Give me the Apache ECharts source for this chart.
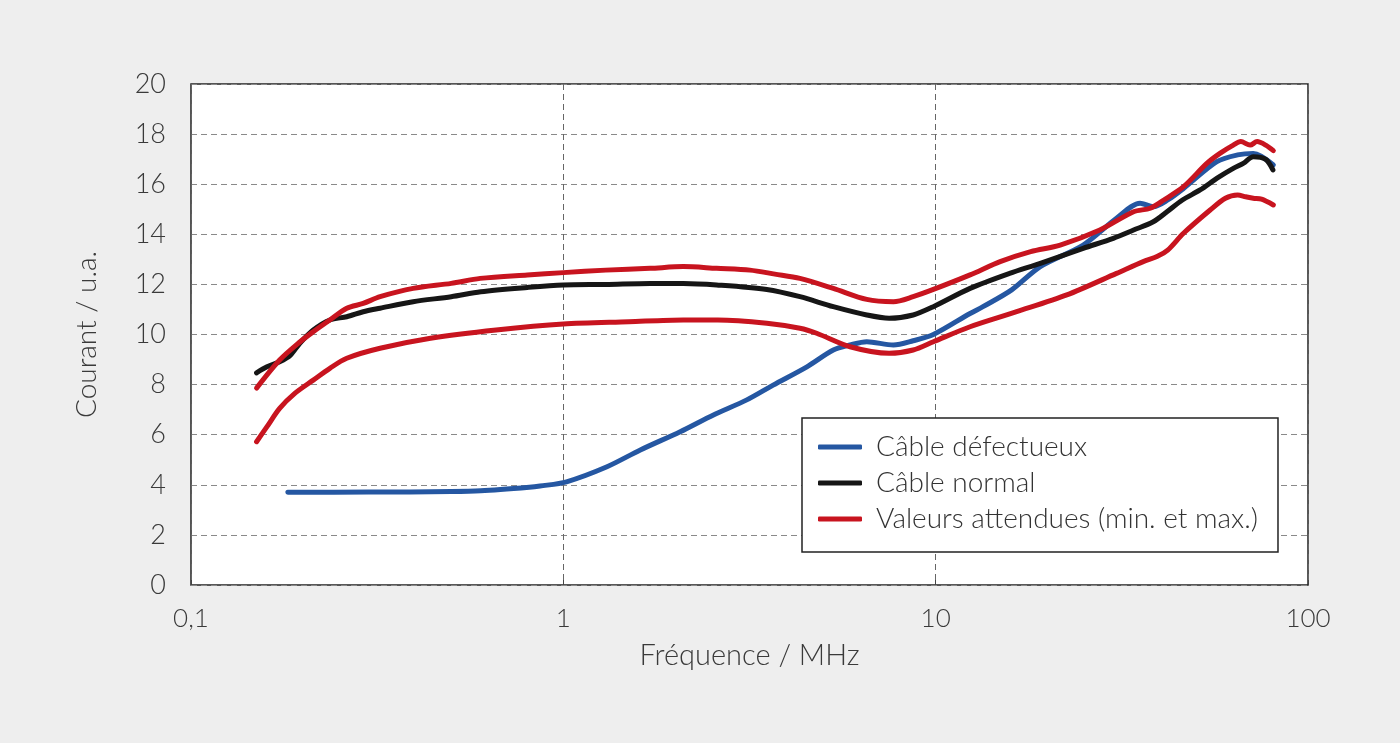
<!DOCTYPE html>
<html>
<head>
<meta charset="utf-8">
<script src="https://cdn.jsdelivr.net/npm/echarts@6/dist/echarts.min.js"></script>
<style>
html,body{margin:0;padding:0;background:#eeeeee;}
#chart{width:1400px;height:743px;}
</style>
</head>
<body>
<div id="chart"></div>
<script>
// Frequencies (MHz) and currents (u.a.)
const defectFreq = [0.182, 0.3, 0.5, 0.6, 0.81, 0.866, 1.02, 1.31, 1.61, 2.06, 2.53, 3.11, 3.66, 4.51, 5.31, 5.89, 6.53, 7.7, 8.7, 9.86, 12.37, 13.4, 16, 19.1, 24.9, 30.6, 35.4, 38.4, 42, 46.3, 56.9, 64.7, 71.3, 80.7];
const defectVal  = [3.70, 3.71, 3.73, 3.76, 3.90, 3.95, 4.12, 4.72, 5.39, 6.12, 6.79, 7.39, 7.98, 8.71, 9.38, 9.58, 9.71, 9.58, 9.75, 10.0, 10.84, 11.11, 11.78, 12.71, 13.57, 14.64, 15.24, 15.10, 15.37, 15.83, 16.90, 17.17, 17.23, 16.77];

const normalFreq = [0.15, 0.16, 0.173, 0.185, 0.196, 0.213, 0.236, 0.262, 0.29, 0.322, 0.395, 0.5, 0.6, 0.8, 1.0, 1.3, 1.71, 2.1, 2.58, 3.52, 4.32, 5.31, 6.53, 7.5, 8.7, 9.86, 12.37, 15.8, 19.1, 24.9, 30, 34, 38.4, 41.8, 46, 51.3, 57, 63, 67, 71.3, 77, 80.5];
const normalVal  = [8.47, 8.71, 8.91, 9.18, 9.65, 10.18, 10.58, 10.71, 10.91, 11.05, 11.31, 11.51, 11.71, 11.88, 11.98, 12.00, 12.04, 12.04, 11.98, 11.80, 11.51, 11.11, 10.78, 10.65, 10.78, 11.11, 11.84, 12.44, 12.84, 13.44, 13.84, 14.17, 14.50, 14.90, 15.37, 15.77, 16.24, 16.63, 16.83, 17.10, 16.99, 16.57];

const maxFreq = [0.15, 0.173, 0.196, 0.213, 0.236, 0.262, 0.29, 0.322, 0.395, 0.5, 0.598, 0.8, 1.0, 1.3, 1.71, 2.1, 2.58, 3.17, 3.7, 4.32, 5.31, 6.53, 7.7, 8.7, 9.86, 12.37, 14.9, 18, 21.6, 27.6, 34, 37.7, 41, 46.3, 53.5, 58, 63, 66, 69.9, 73, 77, 80.7];
const maxVal  = [7.86, 8.98, 9.70, 10.11, 10.58, 11.05, 11.24, 11.51, 11.84, 12.04, 12.24, 12.38, 12.47, 12.57, 12.64, 12.71, 12.64, 12.57, 12.41, 12.24, 11.84, 11.40, 11.31, 11.51, 11.80, 12.38, 12.91, 13.31, 13.57, 14.17, 14.90, 15.04, 15.37, 15.90, 16.83, 17.23, 17.56, 17.70, 17.56, 17.70, 17.56, 17.34];

const minFreq = [0.15, 0.16, 0.173, 0.19, 0.213, 0.236, 0.262, 0.322, 0.44, 0.66, 1.0, 1.5, 2.1, 2.6, 3.52, 4.32, 4.79, 5.89, 7.5, 8.7, 9.86, 12.37, 16.5, 22.5, 30.6, 36.1, 39.3, 42, 46.3, 54.6, 60, 64.7, 68, 71.3, 75, 80.7];
const minVal  = [5.72, 6.32, 7.05, 7.65, 8.18, 8.65, 9.05, 9.45, 9.85, 10.18, 10.42, 10.51, 10.58, 10.58, 10.45, 10.25, 10.05, 9.51, 9.25, 9.38, 9.71, 10.31, 10.91, 11.58, 12.44, 12.91, 13.11, 13.37, 14.04, 14.97, 15.44, 15.57, 15.50, 15.44, 15.40, 15.17];

const xTicks = [0.1, 1, 10, 100];
const yTicks = [0, 2, 4, 6, 8, 10, 12, 14, 16, 18, 20];

const seriesNames = ['Câble défectueux', 'Câble normal', 'Valeurs attendues (min. et max.)'];

function zip(f, v) { return f.map((x, i) => [x, v[i]]); }

const FONT = 'Lato, "Open Sans", sans-serif';
const BLUE = '#2557a2', BLACK = '#161616', RED = '#c8141f';

function lineSeries(name, color, data) {
  return {
    name: name, type: 'line', data: data, showSymbol: false, smooth: 0.3,
    lineStyle: { color: color, width: 5, cap: 'round', join: 'round' },
    itemStyle: { color: color }, z: 3
  };
}

const chart = echarts.init(document.getElementById('chart'));
chart.setOption({
  backgroundColor: '#eeeeee',
  animation: false,
  textStyle: { fontFamily: FONT, fontWeight: 300 },
  grid: {
    left: 191, top: 84, width: 1117, height: 501,
    show: true, backgroundColor: '#ffffff', borderColor: '#222222', borderWidth: 1.5
  },
  legend: {
    orient: 'vertical', left: 802, top: 418,
    data: seriesNames,
    backgroundColor: '#ffffff', borderColor: '#222222', borderWidth: 1.5,
    padding: [15, 20, 19, 16],
    itemWidth: 44, itemHeight: 5, itemGap: 8,
    icon: 'roundRect',
    textStyle: { fontFamily: FONT, fontWeight: 300, fontSize: 28, color: '#333333', lineHeight: 28, padding: [0, 0, 0, 9] }
  },
  xAxis: {
    type: 'log', logBase: 10, min: xTicks[0], max: xTicks[xTicks.length - 1],
    name: 'Fréquence / MHz', nameLocation: 'middle', nameGap: 56,
    nameTextStyle: { fontFamily: FONT, fontWeight: 300, fontSize: 29, color: '#3a3a3a' },
    axisLine: { show: false },
    axisTick: { show: true, inside: true, length: 5, lineStyle: { color: '#444' } },
    minorTick: { show: false },
    axisLabel: {
      fontFamily: FONT, fontWeight: 300, fontSize: 26, color: '#3a3a3a', margin: 21,
      formatter: v => String(v).replace('.', ',')
    },
    splitLine: { show: true, lineStyle: { color: '#666666', type: [6, 4], width: 1 } }
  },
  yAxis: {
    type: 'value', min: yTicks[0], max: yTicks[yTicks.length - 1], interval: 2,
    name: 'Courant / u.a.', nameLocation: 'middle', nameGap: 90, nameRotate: 90,
    nameTextStyle: { fontFamily: FONT, fontWeight: 300, fontSize: 28, color: '#3a3a3a' },
    axisLine: { show: false },
    axisTick: { show: false },
    axisLabel: { fontFamily: FONT, fontWeight: 300, fontSize: 27, color: '#3a3a3a', margin: 25 },
    splitLine: { show: true, lineStyle: { color: '#8a8a8a', type: [6, 4], width: 1 } }
  },
  series: [
    lineSeries(seriesNames[0], BLUE, zip(defectFreq, defectVal)),
    lineSeries(seriesNames[1], BLACK, zip(normalFreq, normalVal)),
    lineSeries(seriesNames[2], RED, zip(maxFreq, maxVal)),
    lineSeries(seriesNames[2], RED, zip(minFreq, minVal))
  ]
});
</script>
</body>
</html>
